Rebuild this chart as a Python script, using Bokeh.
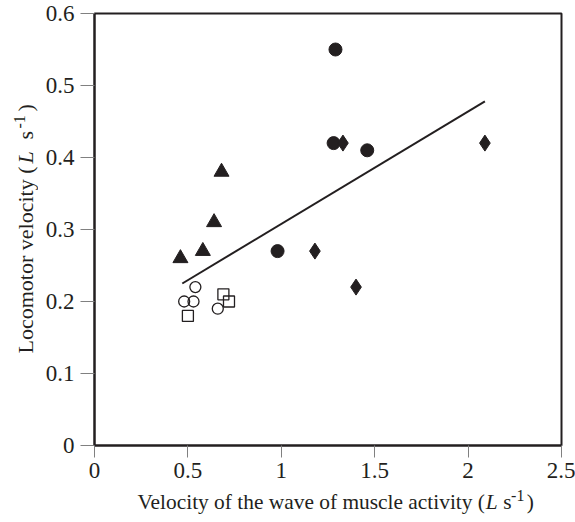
import math
from bokeh.plotting import figure
from bokeh.models import Range1d, FixedTicker
from bokeh.layouts import row, column
from bokeh.core.properties import value
from bokeh.embed import file_html
from bokeh.resources import INLINE

# Data
tri_x = [0.46, 0.58, 0.64, 0.68]
tri_y = [0.26, 0.27, 0.31, 0.38]

ocirc_x = [0.48, 0.53, 0.54, 0.66]
ocirc_y = [0.20, 0.20, 0.22, 0.19]

osq_x = [0.50, 0.69, 0.72]
osq_y = [0.18, 0.21, 0.20]

fcirc_x = [0.98, 1.28, 1.29, 1.46]
fcirc_y = [0.27, 0.42, 0.55, 0.41]

diam_x = [1.18, 1.33, 1.40, 2.09]
diam_y = [0.27, 0.42, 0.22, 0.42]

fit_x = [0.47, 2.09]
fit_y = [0.225, 0.478]

x_ticks = [0, 0.5, 1, 1.5, 2, 2.5]
x_tick_labels = ["0", "0.5", "1", "1.5", "2", "2.5"]
y_ticks = [0, 0.1, 0.2, 0.3, 0.4, 0.5, 0.6]
y_tick_labels = ["0", "0.1", "0.2", "0.3", "0.4", "0.5", "0.6"]

x_title = ["Velocity of the wave of muscle activity (", "L", "s", "-1", ")"]
y_title = ["Locomotor velocity (", "L", "s", "-1", ")"]

FONT = "Liberation Serif"
INK = "#231f20"
W, H = 575, 522
YW = 38          # width of the strip holding the y title
XH = 36          # height of the strip holding the x title
PW, PH = W - YW, H - XH
K = 0.36         # baseline correction, in em

p = figure(width=PW, height=PH, output_backend="svg", toolbar_location=None,
           x_range=Range1d(0, 2.5), y_range=Range1d(0, 0.6),
           min_border_left=94 - YW, min_border_right=14, min_border_top=13,
           min_border_bottom=PH - 445)

p.grid.visible = False
p.outline_line_color = INK
p.outline_line_width = 2
p.background_fill_color = "white"
p.border_fill_color = "white"

for ax, ticks, labels in ((p.xaxis[0], x_ticks, x_tick_labels), (p.yaxis[0], y_ticks, y_tick_labels)):
    ax.ticker = FixedTicker(ticks=ticks)
    ax.major_label_overrides = {t: l for t, l in zip(ticks, labels)}
    ax.minor_tick_line_color = None
    ax.major_tick_in = 0
    ax.major_tick_line_color = "#808080"
    ax.major_tick_line_width = 1
    ax.axis_line_color = INK
    ax.axis_line_width = 2
    ax.major_label_text_font = FONT
    ax.major_label_text_font_size = "23px"
    ax.major_label_text_color = INK

p.xaxis.major_tick_out = 12
p.yaxis.major_tick_out = 14
p.xaxis.major_label_standoff = 5
p.yaxis.major_label_standoff = 6

p.line(fit_x, fit_y, line_color=INK, line_width=2)
p.scatter(tri_x, tri_y, marker="triangle", size=15, fill_color=INK, line_color=INK)
p.scatter(ocirc_x, ocirc_y, marker="circle", size=11, fill_color="white", fill_alpha=0, line_color=INK, line_width=1.3)
p.scatter(osq_x, osq_y, marker="square", size=11, fill_color="white", fill_alpha=0, line_color=INK, line_width=1.3)
p.scatter(fcirc_x, fcirc_y, marker="circle", size=13, fill_color=INK, line_color=INK)
p.scatter(diam_x, diam_y, marker="diamond", size=16, fill_color=INK, line_color=INK)


def strip(width, height, xr, yr):
    f = figure(width=width, height=height, output_backend="svg", toolbar_location=None,
               x_range=Range1d(*xr), y_range=Range1d(*yr),
               x_axis_location=None, y_axis_location=None,
               min_border_left=0, min_border_right=0, min_border_top=0, min_border_bottom=0)
    f.grid.visible = False
    f.outline_line_color = None
    f.background_fill_color = "white"
    f.border_fill_color = "white"
    return f


def put(f, x, y, text, size, style="normal", align="left", angle=0.0):
    f.text(x=[x], y=[y], text=[text], text_font=value(FONT), text_font_size=value(f"{size}px"),
           text_font_style=style, text_color=INK, text_align=align,
           text_baseline="alphabetic", angle=angle)


# x title strip: coordinates are page pixels (y grows downward)
xf = strip(PW, XH, (YW, W), (H, PH))
bx = 509
put(xf, 487, bx - K * 21.4, x_title[0], 21.4, align="right")
put(xf, 488, bx - K * 21.4, x_title[1], 21.4, style="italic")
put(xf, 508, bx - K * 21.4, x_title[2], 21.4)
put(xf, 517, bx - 8 - K * 16, x_title[3], 16)
put(xf, 535, bx - K * 21.4, x_title[4], 21.4)

# y title strip: coordinates are page pixels, rotated text (baseline is a vertical line)
yf = strip(YW, H, (0, YW), (H, 0))
by = 33
a = math.pi / 2
put(yf, by - K * 22, 166, y_title[0], 22, align="right", angle=a)
put(yf, by - K * 22, 163, y_title[1], 22, style="italic", angle=a)
put(yf, by - K * 22, 139, y_title[2], 22, angle=a)
put(yf, by - 8 - K * 16, 128, y_title[3], 16, angle=a)
put(yf, by - K * 22, 111, y_title[4], 22, angle=a)

layout = row(yf, column(p, xf))

open("out.html", "w").write(file_html(layout, INLINE))
